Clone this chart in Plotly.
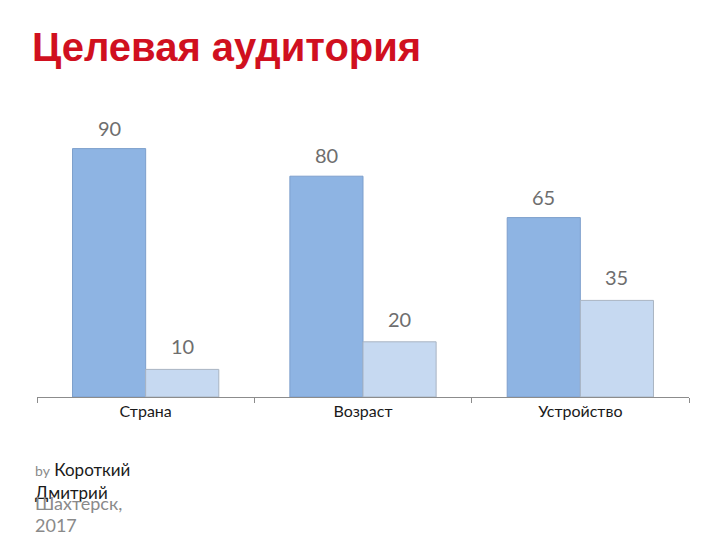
import plotly.graph_objects as go

categories = ["Страна", "Возраст", "Устройство"]
series_a = [90, 80, 65]
series_b = [10, 20, 35]
title_text = "Целевая аудитория"

fig = go.Figure()
fig.add_trace(go.Bar(x=categories, y=series_a, name="A",
                     marker=dict(color="#8EB4E3", line=dict(color="#7D9FCC", width=1))))
fig.add_trace(go.Bar(x=categories, y=series_b, name="B",
                     marker=dict(color="#C6D9F1", line=dict(color="#A9B4C2", width=1))))

label_font = dict(family="Lato, 'Open Sans', sans-serif", size=20, color="#6E6E6E")
for cat, a, b in zip(categories, series_a, series_b):
    fig.add_annotation(x=cat, y=a, text=str(a), showarrow=False, xshift=-36.5, yshift=21,
                       yanchor="middle", font=label_font)
    fig.add_annotation(x=cat, y=b, text=str(b), showarrow=False, xshift=36.5, yshift=23,
                       yanchor="middle", font=label_font)

fig.add_annotation(xref="paper", yref="paper", x=(33 - 37) / 652, y=(540 - 143 - 469) / 276,
                   xanchor="left", yanchor="middle", showarrow=False, align="left",
                   text="<span style='color:#8A8A8A;font-size:14px'>by</span> Короткий",
                   font=dict(family="Lato, sans-serif", size=17, color="#1A1A1A"))
fig.add_annotation(xref="paper", yref="paper", x=(33 - 37) / 652, y=(540 - 143 - 492) / 276,
                   xanchor="left", yanchor="middle", showarrow=False, align="left",
                   text="Дмитрий",
                   font=dict(family="Lato, sans-serif", size=17, color="#1A1A1A"))
fig.add_annotation(xref="paper", yref="paper", x=(33 - 37) / 652, y=(540 - 143 - 503) / 276,
                   xanchor="left", yanchor="middle", showarrow=False, align="left",
                   text="Шахтерск,",
                   font=dict(family="Lato, sans-serif", size=18, color="#8A8A8A"))
fig.add_annotation(xref="paper", yref="paper", x=(33 - 37) / 652, y=(540 - 143 - 525) / 276,
                   xanchor="left", yanchor="middle", showarrow=False, align="left",
                   text="2017",
                   font=dict(family="Lato, sans-serif", size=18, color="#8A8A8A"))

fig.update_layout(
    width=720, height=540,
    margin=dict(l=37, r=31, t=121, b=143),
    paper_bgcolor="white", plot_bgcolor="white",
    barmode="group", bargap=0.327, bargroupgap=0,
    showlegend=False,
    title=dict(text=title_text, x=32 / 720, xref="container", xanchor="left",
               y=1 - 47 / 540, yref="container", yanchor="middle",
               font=dict(family="'Liberation Sans', Arial, sans-serif", size=40, color="#D0101F",
                         weight="bold")),
    xaxis=dict(showline=True, linecolor="#8C8C8C", linewidth=1, ticks="outside",
               tickson="boundaries", ticklen=5, tickcolor="#8C8C8C", showgrid=False,
               tickfont=dict(family="Lato, 'Open Sans', sans-serif",
                             size=16, color="#1A1A1A")),
    yaxis=dict(range=[0, 100], visible=False, showgrid=False),
)

fig.write_html("out.html")
